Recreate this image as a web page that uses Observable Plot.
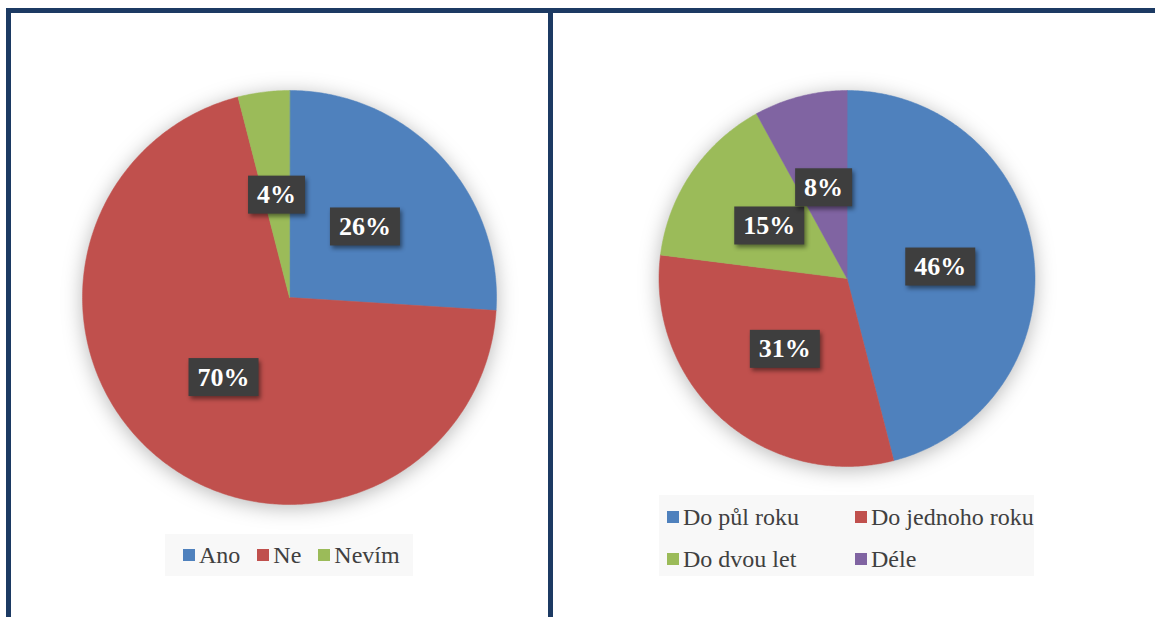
<!DOCTYPE html>
<html><head><meta charset="utf-8">
<script src="https://cdn.jsdelivr.net/npm/d3@7"></script>
<script src="https://cdn.jsdelivr.net/npm/@observablehq/plot@0.6"></script>
</head><body style="margin:0;background:#fff;width:1155px;height:617px;overflow:hidden;position:relative">
<script>
// ---- data ----
const leftCategories = ["Ano", "Ne", "Nevím"];
const leftValues = [26, 70, 4];
const rightCategories = ["Do půl roku", "Do jednoho roku", "Do dvou let", "Déle"];
const rightValues = [46, 31, 15, 8];
const palette = ["#4F81BD", "#C0504D", "#9BBB59", "#8064A2"];
const SERIF = "'Liberation Serif', serif";

function slices(cats, vals) {
  const arcs = d3.pie().sort(null).value(d => d.value)(cats.map((c, i) => ({cat: c, value: vals[i]})));
  const pts = [];
  for (const a of arcs) {
    pts.push({cat: a.data.cat, x: 0, y: 0});
    const n = Math.max(2, Math.ceil((a.endAngle - a.startAngle) / 0.01));
    for (let k = 0; k <= n; k++) {
      const t = a.startAngle + (a.endAngle - a.startAngle) * k / n;
      pts.push({cat: a.data.cat, x: Math.sin(t), y: Math.cos(t)});
    }
  }
  const labels = arcs.map(a => {
    const m = (a.startAngle + a.endAngle) / 2;
    return {cat: a.data.cat, text: a.data.value + "%", x: 0.5 * Math.sin(m), y: 0.5 * Math.cos(m)};
  });
  return {pts, labels};
}

function pie(cats, vals, left, cx, cy, r, w, h) {
  const {pts, labels} = slices(cats, vals);
  const plot = Plot.plot({
    width: w, height: h, margin: 0,
    x: {domain: [-1, 1], range: [cx - r, cx + r], axis: null},
    y: {domain: [-1, 1], range: [cy + r, cy - r], axis: null},
    color: {domain: cats, range: palette.slice(0, cats.length)},
    style: {background: "transparent", overflow: "visible"},
    marks: [
      Plot.line(pts, {x: "x", y: "y", z: "cat", fill: "cat", stroke: "cat", strokeWidth: 0.5, curve: "linear-closed"}),
      Plot.text(labels, {x: "x", y: "y", text: "text", fill: "white", fontSize: 26, fontWeight: "bold", fontFamily: "Liberation Serif"})
    ]
  });
  const div = document.createElement("div");
  div.style.position = "absolute";
  div.style.top = "0px";
  div.style.left = left + "px";
  div.appendChild(plot);
  document.body.appendChild(div);
  const lineG = plot.querySelector('g[aria-label="line"]');
  if (lineG) lineG.style.filter = "drop-shadow(0px 3px 10px rgba(0,0,0,0.28))";
  plot.querySelectorAll('g[aria-label="text"] text').forEach(t => {
    const bb = t.getBBox();
    const rect = document.createElementNS("http://www.w3.org/2000/svg", "rect");
    const cyb = bb.y + bb.height / 2;
    rect.setAttribute("x", bb.x - 9);
    rect.setAttribute("y", cyb - 19);
    rect.setAttribute("width", bb.width + 18);
    rect.setAttribute("height", 38);
    rect.setAttribute("fill", "#3e3e3e");
    rect.style.filter = "drop-shadow(2px 3px 2px rgba(0,0,0,0.45))";
    const tr = t.getAttribute("transform");
    if (tr) rect.setAttribute("transform", tr);
    t.parentNode.insertBefore(rect, t);
  });
}

pie(leftCategories, leftValues, 0, 289, 297, 207, 548, 530);
pie(rightCategories, rightValues, 553, 846.5 - 553, 278, 188, 602, 490);

function legendItem(cat, color) {
  const it = document.createElement("div");
  Object.assign(it.style, {display: "flex", alignItems: "center", whiteSpace: "nowrap", height: "30px",
    fontFamily: SERIF, fontSize: "24px", color: "#404040"});
  const sw = document.createElement("span");
  Object.assign(sw.style, {width: "12px", height: "12px", marginRight: "4px", flex: "none", background: color});
  const tx = document.createElement("span");
  tx.textContent = cat;
  it.appendChild(sw); it.appendChild(tx);
  return it;
}

// left legend
const lg = document.createElement("div");
Object.assign(lg.style, {position: "absolute", background: "#f8f8f8", left: "165px", top: "534px", width: "248px", height: "42px",
  display: "flex", alignItems: "center", gap: "17px", paddingLeft: "18px", boxSizing: "border-box"});
leftCategories.forEach((c, i) => lg.appendChild(legendItem(c, palette[i])));
document.body.appendChild(lg);

// right legend
const rg = document.createElement("div");
Object.assign(rg.style, {position: "absolute", background: "#f8f8f8", left: "659px", top: "495px", width: "375px", height: "81px"});
rightCategories.forEach((c, i) => {
  const it = legendItem(c, palette[i]);
  it.style.position = "absolute";
  it.style.left = (i % 2 === 0 ? 8 : 196) + "px";
  it.style.top = (i < 2 ? 7 : 49) + "px";
  rg.appendChild(it);
});
document.body.appendChild(rg);

// frame lines
[[6, 8, 1149, 5], [6, 8, 5, 609], [548, 8, 5, 609]].forEach(([l, t, w, h]) => {
  const f = document.createElement("div");
  Object.assign(f.style, {position: "absolute", background: "#1c3a63", zIndex: 5,
    left: l + "px", top: t + "px", width: w + "px", height: h + "px"});
  document.body.appendChild(f);
});
</script>
</body></html>
